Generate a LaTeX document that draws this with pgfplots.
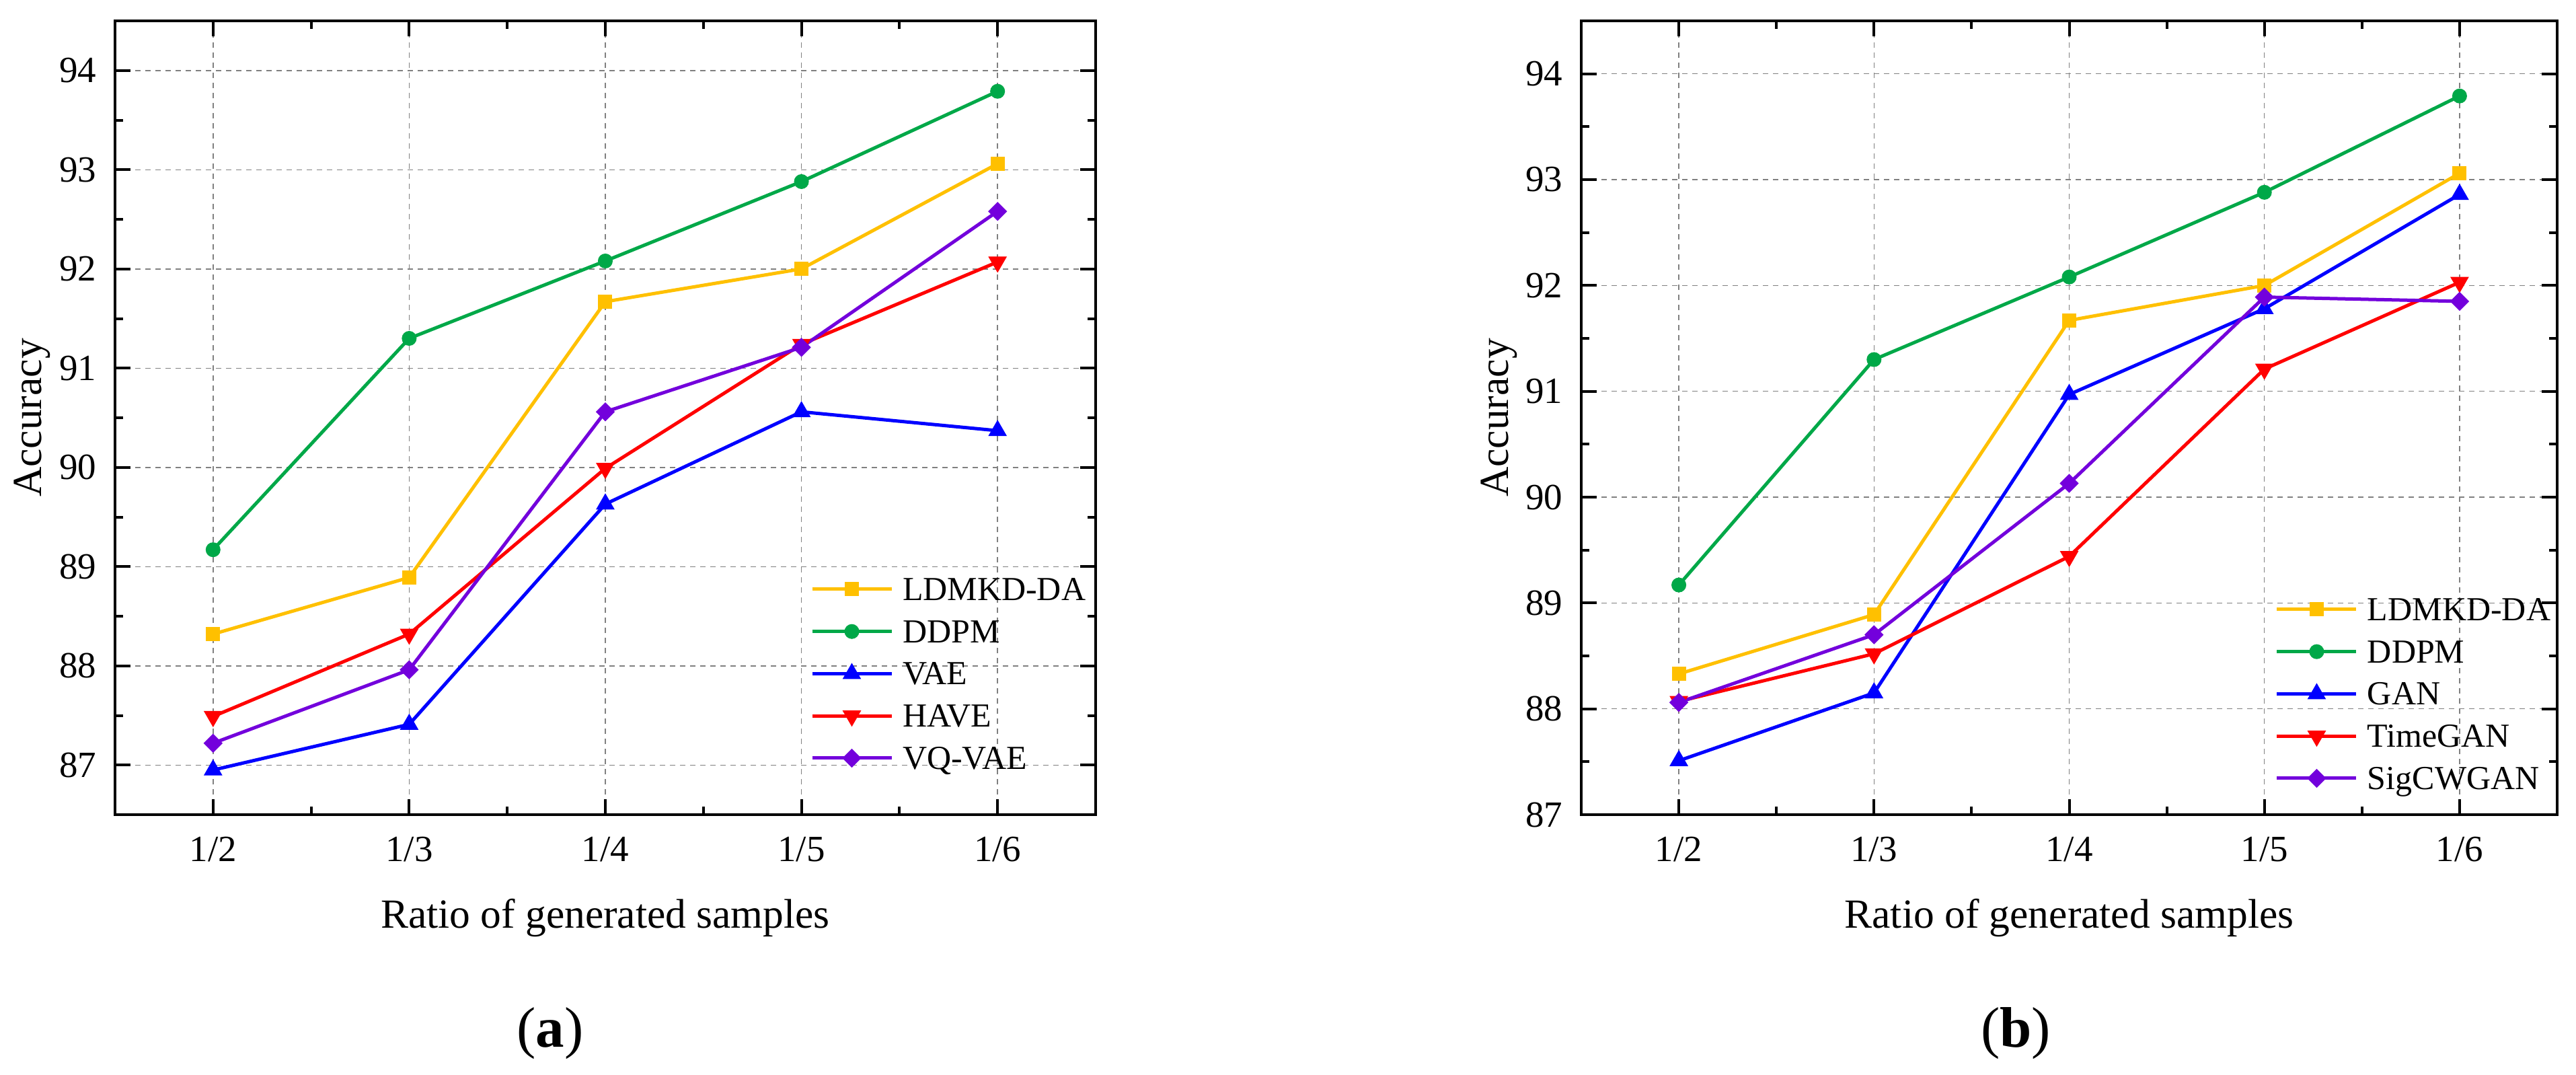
\documentclass[border=0pt]{standalone}
\usepackage{fontspec}
\setmainfont{Liberation Serif}
\usepackage{pgfplots}
\pgfplotsset{compat=1.18}

\definecolor{cOr}{RGB}{255,192,0}
\definecolor{cGr}{RGB}{0,168,72}
\definecolor{cBl}{RGB}{0,0,255}
\definecolor{cRd}{RGB}{255,0,0}
\definecolor{cPu}{RGB}{115,0,220}
\definecolor{gridgray}{RGB}{128,128,128}

\pgfplotsset{
  myaxis/.style={
    scale only axis, width=291.6pt, height=236pt,
    xmin=-0.5, xmax=4.5, xtick={0,1,2,3,4},
    xticklabels={1/2,1/3,1/4,1/5,1/6},
    minor x tick num=1, minor y tick num=1,
    tick align=inside, major tick length=4.6pt, minor tick length=2.4pt,
    tick style={black, line width=0.8pt},
    axis line style={line width=0.8pt},
    xmajorgrids, ymajorgrids,
    major grid style={dash pattern=on 1.6pt off 1.4pt, line width=0.3pt, color=gridgray},
    tick label style={font=\fontsize{11}{13}\selectfont},
    /pgf/number format/assume math mode=true,
    yticklabel style={inner sep=0pt, xshift=-5.4pt},
    xticklabel style={inner sep=0pt, yshift=-6.4pt},
    label style={font=\fontsize{12.3}{14}\selectfont},
    xlabel style={at={(axis description cs:0.5,-0.1432)}, anchor=base},
    ylabel style={at={(axis description cs:-0.0748,0.5)}, anchor=base},
    xlabel={Ratio of generated samples}, ylabel={Accuracy},
    legend cell align=left,
    legend style={draw=none, fill=none, inner sep=0pt, outer sep=0pt,
      anchor=north west, row sep=5.95pt, column sep=2.8pt,
      font=\fontsize{10}{12}\selectfont,
      nodes={inner sep=0pt, text height=6.6pt, text depth=0pt}},
    legend image code/.code={\draw[mark repeat=2, mark phase=2] plot coordinates {(0pt,0pt) (11.8pt,0pt) (23.6pt,0pt)};},
  },
  sOr/.style={color=cOr, line width=1pt, mark=square*, mark size=2pt, mark options={solid, line width=0.2pt, fill=cOr}},
  sGr/.style={color=cGr, line width=1pt, mark=*, mark size=2.1pt, mark options={solid, line width=0.2pt, fill=cGr}},
  sBl/.style={color=cBl, line width=1pt, mark=triangle*, mark size=3pt, mark options={solid, line width=0.2pt, fill=cBl}},
  sRd/.style={color=cRd, line width=1pt, mark=triangle*, mark size=3pt, mark options={solid, line width=0.2pt, fill=cRd, rotate=180}},
  sPu/.style={color=cPu, line width=1pt, mark=square*, mark size=1.9pt, mark options={solid, line width=0.2pt, fill=cPu, rotate=45}},
}

\begin{document}
\begin{tikzpicture}
\useasboundingbox (0,0) rectangle (766pt,319.4pt);

\begin{axis}[myaxis, at={(34.2pt,77.2pt)}, anchor=south west,
  ymin=86.5, ymax=94.5, ytick={87,88,89,90,91,92,93,94},
  legend style={at={(axis description cs:0.7092,0.2979)}}]
\addplot[sOr] coordinates {(0,88.32) (1,88.89) (2,91.67) (3,92.00) (4,93.06)};
\addlegendentry{LDMKD-DA}
\addplot[sGr] coordinates {(0,89.17) (1,91.30) (2,92.08) (3,92.88) (4,93.79)};
\addlegendentry{DDPM}
\addplot[sBl] coordinates {(0,86.95) (1,87.41) (2,89.63) (3,90.56) (4,90.37)};
\addlegendentry{VAE}
\addplot[sRd] coordinates {(0,87.49) (1,88.32) (2,89.99) (3,91.24) (4,92.07)};
\addlegendentry{HAVE}
\addplot[sPu] coordinates {(0,87.22) (1,87.96) (2,90.56) (3,91.21) (4,92.58)};
\addlegendentry{VQ-VAE}
\end{axis}

\begin{axis}[myaxis, at={(470.2pt,77.2pt)}, anchor=south west, width=290.2pt,
  ymin=87, ymax=94.5, ytick={87,88,89,90,91,92,93,94},
  legend style={at={(axis description cs:0.7112,0.2725)}}]
\addplot[sOr] coordinates {(0,88.33) (1,88.89) (2,91.67) (3,92.00) (4,93.06)};
\addlegendentry{LDMKD-DA}
\addplot[sGr] coordinates {(0,89.17) (1,91.30) (2,92.08) (3,92.88) (4,93.79)};
\addlegendentry{DDPM}
\addplot[sBl] coordinates {(0,87.51) (1,88.15) (2,90.97) (3,91.78) (4,92.86)};
\addlegendentry{GAN}
\addplot[sRd] coordinates {(0,88.07) (1,88.52) (2,89.44) (3,91.21) (4,92.03)};
\addlegendentry{TimeGAN}
\addplot[sPu] coordinates {(0,88.06) (1,88.70) (2,90.13) (3,91.89) (4,91.85)};
\addlegendentry{SigCWGAN}
\end{axis}

\node[inner sep=0pt, font=\fontsize{17}{20}\selectfont] at (163.6pt,12.2pt) {(\textbf{a})};
\node[inner sep=0pt, font=\fontsize{17}{20}\selectfont] at (599.4pt,12.2pt) {(\textbf{b})};
\end{tikzpicture}
\end{document}
